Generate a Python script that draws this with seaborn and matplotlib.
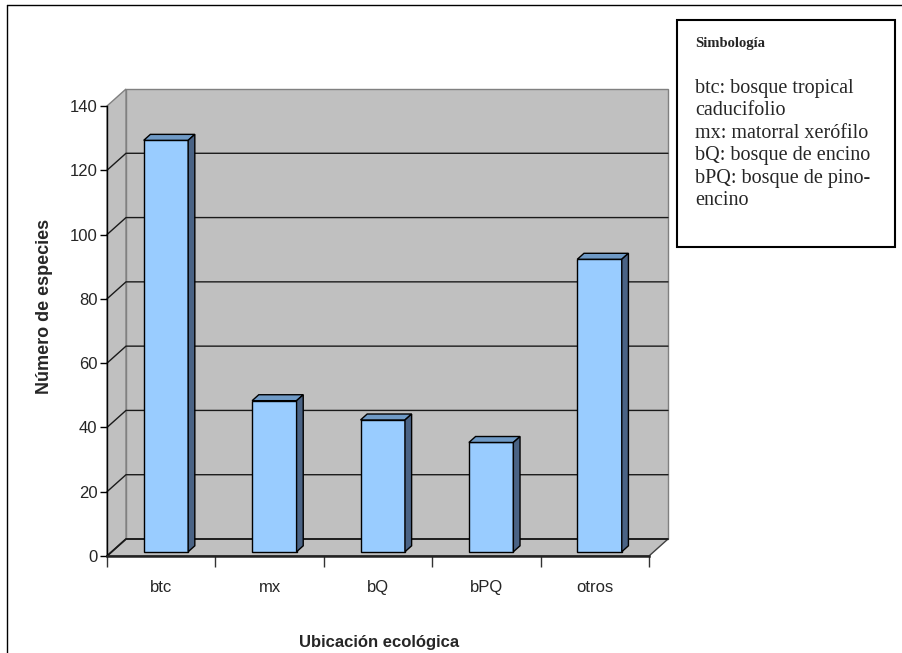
import numpy as np
import matplotlib
matplotlib.use("Agg")
import matplotlib.pyplot as plt
import matplotlib.transforms as mtransforms
from matplotlib.patches import Polygon, Rectangle
from matplotlib.lines import Line2D
import seaborn as sns

# datos
categorias = ["btc", "mx", "bQ", "bPQ", "otros"]
especies = [128, 47, 41, 34, 91]
yticks = [0, 20, 40, 60, 80, 100, 120, 140]
etiqueta_x = "Ubicación ecológica"
etiqueta_y = "Número de especies"
titulo_simb = "Simbología"
lineas_simb = ["btc: bosque tropical", "caducifolio", "mx: matorral xerófilo",
               "bQ: bosque de encino", "bPQ: bosque de pino-", "encino"]

sns.set_style("white")
plt.rcParams["font.family"] = ["Liberation Sans", "DejaVu Sans"]

W, H = 903, 653
fig = plt.figure(figsize=(W / 100, H / 100), dpi=100)
fig.patch.set_facecolor("white")


def fx(px):
    return px / W


def fy(py):
    return 1 - py / H


ax = fig.add_axes([fx(107), fy(556), (649 - 107) / W, (556 - 106) / H])
ax.patch.set_alpha(0)

sns.barplot(x=categorias, y=especies, color="#99CCFF", saturation=1, width=0.41,
            edgecolor="black", linewidth=1, ax=ax, zorder=4)
barras = list(ax.patches)
ax.set_xlim(-0.5, len(categorias) - 0.5)
ax.set_ylim(yticks[0], yticks[-1])
x0_eje, x1_eje = ax.get_xlim()
ymax = yticks[-1]

# efecto 3D: profundidad del gráfico (pulgadas)
DEPTH = (0.19, 0.17)
F0, F1 = 0.25, 0.6   # profundidad frente/fondo de cada barra
ident = mtransforms.IdentityTransform()


def shift(f):
    return ax.transData + mtransforms.ScaledTranslation(f * DEPTH[0], f * DEPTH[1], fig.dpi_scale_trans)


def disp(x, y, f):
    return shift(f).transform((x, y))


def poly(pts, **kw):
    p = Polygon(np.array(pts), closed=True, transform=ident, clip_on=False, **kw)
    ax.add_patch(p)
    return p


def linea(pts, **kw):
    pts = np.array(pts)
    l = Line2D(pts[:, 0], pts[:, 1], transform=ident, clip_on=False, **kw)
    ax.add_line(l)
    return l


gris = "#C0C0C0"
# pared del fondo, pared izquierda y piso
poly([disp(x0_eje, 0, 1), disp(x1_eje, 0, 1), disp(x1_eje, ymax, 1), disp(x0_eje, ymax, 1)],
     facecolor=gris, edgecolor="#808080", linewidth=1, zorder=0)
poly([disp(x0_eje, 0, 0), disp(x0_eje, 0, 1), disp(x0_eje, ymax, 1), disp(x0_eje, ymax, 0)],
     facecolor=gris, edgecolor="#808080", linewidth=1, zorder=0)
poly([disp(x0_eje, 0, 0), disp(x1_eje, 0, 0), disp(x1_eje, 0, 1), disp(x0_eje, 0, 1)],
     facecolor=gris, edgecolor="#404040", linewidth=1, zorder=0.5)

# líneas de cuadrícula
for v in yticks[:-1]:
    linea([disp(x0_eje, v, 0), disp(x0_eje, v, 1), disp(x1_eje, v, 1)],
          color="#1a1a1a", linewidth=1.3 if v == 0 else 1, zorder=1)

# barras con caras superior y lateral
for b in barras:
    b.set_transform(shift(F0))
    b.set_clip_on(False)
    x0, w, h = b.get_x(), b.get_width(), b.get_height()
    poly([disp(x0, h, F0), disp(x0 + w, h, F0), disp(x0 + w, h, F1), disp(x0, h, F1)],
         facecolor="#6F9AC6", edgecolor="black", linewidth=1, zorder=4)
    poly([disp(x0 + w, 0, F0), disp(x0 + w, 0, F1), disp(x0 + w, h, F1), disp(x0 + w, h, F0)],
         facecolor="#4A6385", edgecolor="black", linewidth=1, zorder=4)

# ejes frontales
sns.despine(ax=ax, top=True, right=True)
ax.spines["left"].set_color("black")
ax.spines["left"].set_linewidth(1)
ax.spines["bottom"].set_color("#222222")
ax.spines["bottom"].set_linewidth(1.8)
ax.spines["left"].set_zorder(6)
ax.spines["bottom"].set_zorder(6)
ax.set_yticks(yticks)
ax.tick_params(axis="y", left=True, direction="out", length=5, width=1, color="black",
               labelsize=12, pad=2)
ax.set_xticks(np.arange(x0_eje, x1_eje + 0.01, 1), minor=True)
ax.tick_params(axis="x", which="major", bottom=False, length=0, labelsize=12, pad=17)
ax.tick_params(axis="x", which="minor", bottom=True, direction="out", length=8, width=1,
               color="#333333")

ax.set_xlabel(etiqueta_x, fontsize=12, fontweight="bold")
ax.set_ylabel(etiqueta_y, fontsize=13, fontweight="bold")
ax.xaxis.set_label_coords((379 - 107) / 542, (556 - 642) / 450)
ax.xaxis.label.set_va("center")
ax.yaxis.set_label_coords((45 - 107) / 542, (556 - 306) / 450)
ax.yaxis.label.set_va("center")

# marco exterior
fig.add_artist(Line2D([fx(7), fx(7)], [0, fy(5)], color="black", linewidth=1))
fig.add_artist(Line2D([fx(7), 1], [fy(5), fy(5)], color="black", linewidth=1))

# cuadro de simbología
fig.add_artist(Rectangle((fx(677), fy(247)), (895 - 677) / W, (247 - 20) / H,
                         transform=fig.transFigure, facecolor="white", edgecolor="black",
                         linewidth=1.5))
serif = ["Liberation Serif", "DejaVu Serif"]
fig.text(fx(695), fy(44), titulo_simb, family=serif, fontsize=10.5, fontweight="bold",
         va="center", ha="left")
for i, txt in enumerate(lineas_simb):
    fig.text(fx(695), fy(88 + 22.5 * i), txt, family=serif, fontsize=14.5, va="center", ha="left")

fig.savefig("out.png", dpi=100)
